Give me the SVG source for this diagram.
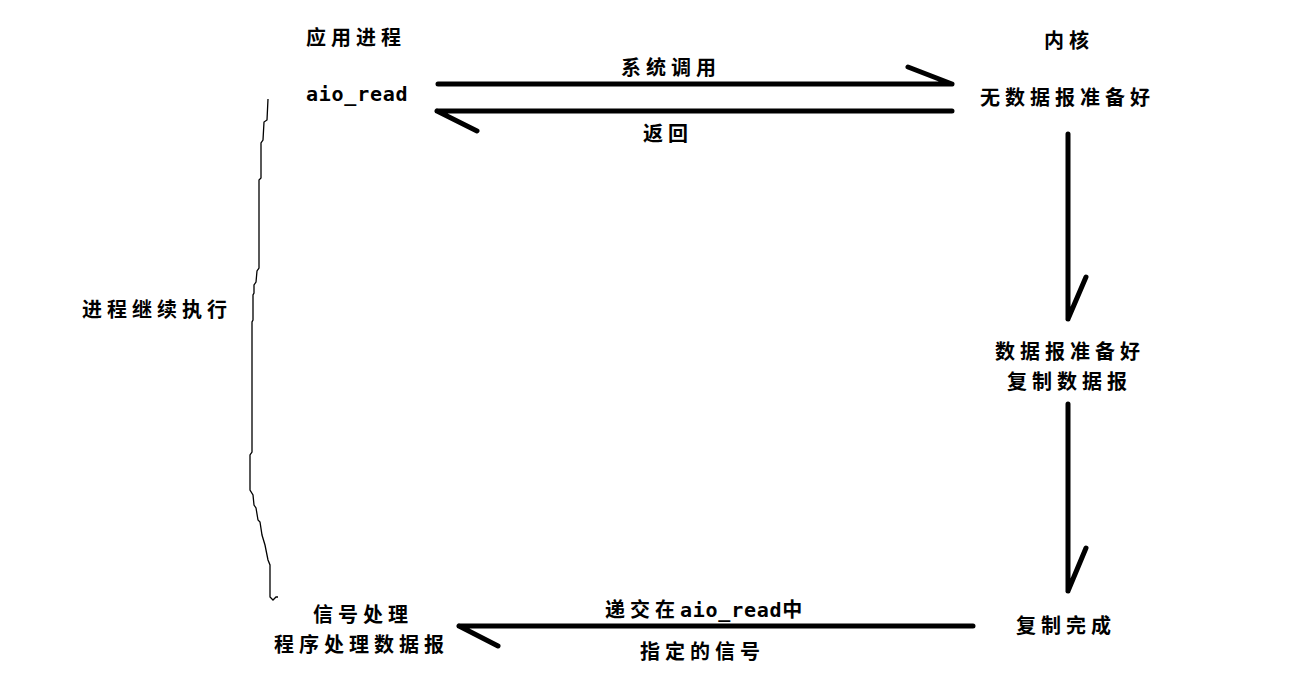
<svg xmlns="http://www.w3.org/2000/svg" width="1293" height="682" viewBox="0 0 1293 682">
<style>
.t{font-family:"Noto Sans CJK SC","DejaVu Sans",sans-serif;font-size:20px;font-weight:bold;fill:#000;letter-spacing:5px}
.m{font-family:"DejaVu Sans Mono","Noto Sans CJK SC",monospace;letter-spacing:0.75px}
.c{stroke:#000;stroke-width:5;stroke-linecap:round;fill:none}
.b{stroke:#000;stroke-width:1.3;fill:none}
</style>
<rect width="1293" height="682" fill="#fff"/>
<g id="connectors">
<path class="c" d="M438 84 L952 84 M952 84 L908 67"/>
<path class="c" d="M952 111 L437 111 M437 111 L477 131"/>
<path class="c" d="M1068 134 L1068 319 M1068 319 L1086 277"/>
<path class="c" d="M1068 404 L1068 591 M1068 591 L1086 548"/>
<path class="c" d="M973 626 L459 626 M459 626 L498 646"/>
<path class="b" d="M268 99 L267 120 L264 122 L263 140 L261 143 L261 178 L259 180 L259 268 L257 271 L256 282 L254 285 L254 293 L253 295 L253 320 L252 322 L252 452 L250 455 L250 490 L253 495 L254 505 L256 508 L258 520 L260 522 L262 535 L265 545 L268 560 L270 565 L270 597 L273 600 L276 597 L278 597"/>
</g>
<g id="app"><text class="t" x="306" y="45">应用进程</text></g>
<g id="aio_read"><text class="t m" x="306" y="101">aio_read</text></g>
<g id="syscall"><text class="t" x="621" y="75">系统调用</text></g>
<g id="return"><text class="t" x="643" y="141">返回</text></g>
<g id="kernel"><text class="t" x="1044" y="48">内核</text></g>
<g id="nodata"><text class="t" x="980" y="105">无数据报准备好</text></g>
<g id="continue"><text class="t" x="82" y="317">进程继续执行</text></g>
<g id="ready"><text class="t" x="995" y="359">数据报准备好</text><text class="t" x="1007" y="389">复制数据报</text></g>
<g id="done"><text class="t" x="1016" y="633">复制完成</text></g>
<g id="handler"><text class="t" x="313" y="622">信号处理</text><text class="t" x="274" y="652">程序处理数据报</text></g>
<g id="deliver"><text class="t" x="605" y="617">递交在<tspan class="m">aio_read</tspan>中</text></g>
<g id="signal"><text class="t" x="640" y="659">指定的信号</text></g>
</svg>
